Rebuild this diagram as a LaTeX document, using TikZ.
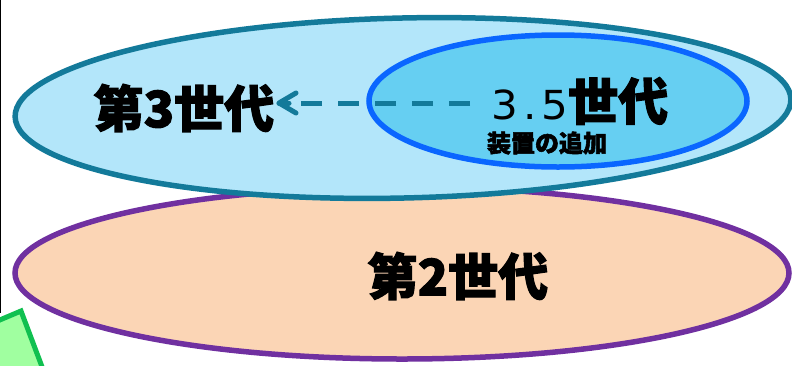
\documentclass[tikz,border=0pt]{standalone}
\usepackage{fontspec}
\newfontfamily\jpfont{Noto Sans CJK JP}[BoldFeatures={FakeBold=2.2}]
\newfontfamily\numfont{DejaVu Sans}[LetterSpace=12, FakeStretch=1.05]
\definecolor{gentopfill}{HTML}{B3E6FA}
\definecolor{gentopline}{HTML}{137A9A}
\definecolor{genbotfill}{HTML}{FBD5B5}
\definecolor{genbotline}{HTML}{7030A0}
\definecolor{geninfill}{HTML}{66CFF2}
\definecolor{geninline}{HTML}{0A66FF}
\definecolor{leaffill}{HTML}{A0FFA0}
\definecolor{leafline}{HTML}{10C050}
\tikzset{
  biglabel/.style={font=\jpfont\bfseries\fontsize{50}{52}\selectfont, inner sep=0pt},
  sublabel/.style={font=\jpfont\bfseries\fontsize{24}{26}\selectfont, inner sep=0pt},
  genring/.style={line width=5.5pt},
  linkline/.style={gentopline, line width=5pt},
}
\begin{document}
\begin{tikzpicture}[x=1pt,y=-1pt]
  \useasboundingbox (0,0) rectangle (792,365);
  \clip (0,0) rectangle (792,365);
  % left rule and corner leaf
  \draw[line width=1.2pt] (0.5,0) -- (0.5,313);
  \draw[line width=5pt, leafline, fill=leaffill]
    (-5,322) -- (21,311) -- (47,380) -- (-5,380) -- cycle;
  % second generation
  \draw[genring, genbotline, fill=genbotfill] (402,273) ellipse [x radius=387, y radius=86];
  % third generation
  \draw[genring, gentopline, fill=gentopfill, rotate around={1.3:(403,108)}]
    (403,108) ellipse [x radius=388, y radius=90];
  % 3.5 generation
  \draw[genring, geninline, fill=geninfill] (558,101) ellipse [x radius=189, y radius=66];
  \node[biglabel, anchor=center] (g3) at (184,108) {第3世代};
  \node[biglabel, anchor=center] (g2) at (458,276) {第2世代};
  \node[anchor=center, inner sep=0pt] (g35) at (580,101)
    {\numfont\fontsize{40}{42}\selectfont 3.5\jpfont\bfseries\fontsize{50}{52}\selectfont 世代};
  \node[sublabel, anchor=center] (add) at (547,143) {装置の追加};
  % dashed link from 3.5 back to 3, with an open chevron head
  \coordinate (arrowstart) at (470,103);
  \coordinate (arrowstem) at (300,103);
  \coordinate (arrowend) at (279,103);
  \draw[linkline, dash pattern=on 21pt off 16pt] (arrowstart) -- (arrowstem);
  \draw[linkline, line cap=round, line join=round]
    (arrowend) ++(17,-10) -- (arrowend) -- ++(17,10);
  \draw[linkline, line cap=round] (arrowend) -- ++(10,0);
\end{tikzpicture}
\end{document}
